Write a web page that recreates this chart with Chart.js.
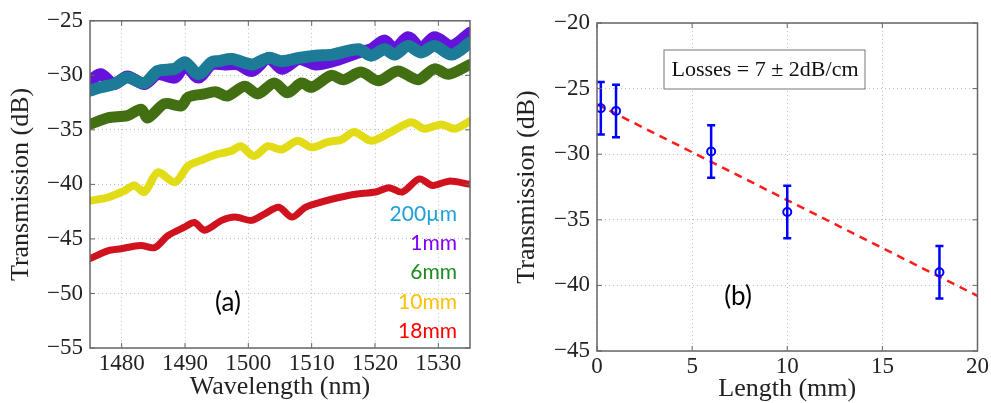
<!DOCTYPE html>
<html>
<head>
<meta charset="utf-8">
<script src="https://cdn.jsdelivr.net/npm/chart.js@4"></script>
<style>
  html, body { margin: 0; padding: 0; background: #fff; }
  #wrap { position: relative; width: 991px; height: 403px; }
  #c1 { position: absolute; left: 0; top: 0; }
  #c2 { position: absolute; left: 495px; top: 0; }
</style>
</head>
<body>
<div id="wrap">
  <canvas id="c1" width="490" height="403"></canvas>
  <canvas id="c2" width="496" height="403"></canvas>
</div>
<script>
// ---- panel (a): transmission spectra ----
const wlTeal = [1475,1476.7,1478.8,1480.9,1483.6,1485.7,1488.4,1490,1492.1,1494.2,1495.3,1497.4,1500.6,1503.2,1505.3,1508,1510.6,1513.3,1517.4,1519.4,1521.5,1523.1,1525.2,1527.3,1529.4,1532.1,1535];
const trTeal = [-31.4,-31.1,-30.8,-30.2,-30.7,-29.6,-29.4,-28.8,-29.9,-28.8,-28.7,-28.5,-29.0,-28.4,-28.7,-28.4,-28.2,-28.1,-27.6,-28.2,-27.6,-28.1,-27.3,-27.9,-27.3,-28.1,-27.0];
const wlPur = [1475,1476.7,1478.8,1480.9,1483.6,1485.7,1488.4,1490,1492.1,1494.2,1496.3,1498.4,1500.6,1503.2,1505.3,1508,1510.6,1513.3,1517.4,1519.4,1521.5,1523.1,1525.2,1527.3,1529.4,1532.1,1535];
const trPur = [-30.5,-29.9,-30.8,-30.1,-30.8,-29.9,-30.2,-29.1,-30.2,-29.0,-29.0,-29.0,-29.6,-28.4,-29.4,-28.5,-29.0,-28.7,-27.9,-27.6,-26.8,-27.6,-26.5,-27.5,-26.5,-27.3,-26.1];
const wlGrn = [1475,1477.8,1480.9,1483.1,1484.1,1486.8,1489.4,1490.5,1493.1,1494.8,1496.7,1499.4,1501.5,1504.1,1506.2,1508.4,1510,1513.1,1515,1517.8,1520.5,1523.6,1526.8,1529.4,1531.6,1535];
const trGrn = [-34.5,-33.9,-33.7,-33.1,-33.9,-32.6,-32.8,-32.0,-31.7,-31.5,-31.9,-31.0,-31.7,-30.7,-31.6,-30.7,-31.1,-30.0,-30.4,-29.7,-30.5,-29.6,-30.4,-29.4,-29.9,-29.0];
const wlYel = [1475,1477.8,1480.4,1482,1483.6,1485.7,1488.4,1490.5,1492.5,1494.7,1497.4,1498.8,1500.9,1503.1,1505.2,1507.8,1510,1512.6,1514.7,1516.7,1519.4,1522.5,1525.7,1527.8,1530.5,1532.6,1535];
const trYel = [-41.5,-41.2,-40.6,-40.1,-40.7,-38.9,-39.8,-38.3,-37.8,-37.3,-36.9,-36.5,-37.4,-36.5,-36.8,-36.0,-36.6,-36.1,-35.9,-35.2,-36.0,-35.2,-34.3,-34.9,-34.5,-34.9,-34.2];
const wlRed = [1475,1477.8,1479.9,1483,1485.2,1487.3,1490,1491.5,1493.1,1495.8,1497.9,1500.5,1502.6,1504.8,1506.9,1509,1511.6,1514.3,1516.9,1520.1,1522.2,1524.3,1527,1529.1,1531.7,1535];
const trRed = [-46.8,-46.1,-45.9,-45.6,-45.8,-44.7,-43.9,-43.5,-44.2,-43.3,-43.0,-43.3,-42.7,-42.1,-43.0,-42.1,-41.6,-41.2,-40.9,-40.7,-40.3,-40.7,-39.5,-40.1,-39.7,-40.0];
const xTicksA = [1480, 1490, 1500, 1510, 1520, 1530];
const sampleNames = ['200\u00b5m', '1mm', '6mm', '10mm', '18mm'];
const sampleColors = ['#1ea0d8', '#8000ff', '#1f8a1f', '#ffc000', '#ff0000'];

// ---- panel (b): losses vs length ----
const lengthMm = [0.2, 1, 6, 10, 18];
const transB = [-26.5, -26.7, -29.8, -34.4, -39.0];
const errB = [2, 2, 2, 2, 2];
const fitX = [0, 20];
const fitY = [-26.2, -40.8];

const serif = '"Liberation Serif", "Times New Roman", serif';
Chart.defaults.font.family = serif;
Chart.defaults.color = '#222';

const minus = v => (v < 0 ? '\u2212' : '') + Math.abs(v);
const pts = (xs, ys) => xs.map((x, i) => ({ x: x, y: ys[i] }));

// box around the plot with inward ticks, matlab style
const frame = {
  id: 'frame',
  afterDraw(chart) {
    const { ctx, chartArea: a, scales } = chart;
    ctx.save();
    ctx.strokeStyle = '#666';
    ctx.lineWidth = 1;
    ctx.beginPath();
    scales.x.ticks.forEach(t => {
      const px = scales.x.getPixelForValue(t.value);
      ctx.moveTo(px, a.bottom); ctx.lineTo(px, a.bottom - 5);
      ctx.moveTo(px, a.top); ctx.lineTo(px, a.top + 5);
    });
    scales.y.ticks.forEach(t => {
      const py = scales.y.getPixelForValue(t.value);
      ctx.moveTo(a.left, py); ctx.lineTo(a.left + 5, py);
      ctx.moveTo(a.right, py); ctx.lineTo(a.right - 5, py);
    });
    ctx.stroke();
    ctx.lineWidth = 1.5;
    ctx.strokeRect(a.left, a.top, a.right - a.left, a.bottom - a.top);
    ctx.restore();
  }
};

const labelsA = {
  id: 'labelsA',
  afterDraw(chart) {
    const { ctx, chartArea: a } = chart;
    ctx.save();
    ctx.font = '21px Lato, "Open Sans", sans-serif';
    ctx.textAlign = 'right';
    ctx.textBaseline = 'middle';
    sampleNames.forEach((n, i) => {
      ctx.fillStyle = sampleColors[i];
      ctx.fillText(n, a.right - 13, a.bottom - 134 + i * 29.3);
    });
    ctx.fillStyle = '#000';
    ctx.textAlign = 'center';
    ctx.font = '26px Lato, "Open Sans", sans-serif';
    ctx.fillText('(a)', a.left + 138, a.bottom - 45);
    ctx.restore();
  }
};

const errorBars = {
  id: 'errorBars',
  afterDatasetsDraw(chart) {
    const { ctx, scales: { x, y } } = chart;
    ctx.save();
    ctx.strokeStyle = '#0000ff';
    ctx.lineWidth = 2.5;
    ctx.beginPath();
    lengthMm.forEach((L, i) => {
      const px = x.getPixelForValue(L);
      const top = y.getPixelForValue(transB[i] + errB[i]);
      const bot = y.getPixelForValue(transB[i] - errB[i]);
      ctx.moveTo(px, top); ctx.lineTo(px, bot);
      ctx.moveTo(px - 4, top); ctx.lineTo(px + 4, top);
      ctx.moveTo(px - 4, bot); ctx.lineTo(px + 4, bot);
    });
    ctx.stroke();
    ctx.restore();
  }
};

const labelsB = {
  id: 'labelsB',
  afterDraw(chart) {
    const { ctx, chartArea: a } = chart;
    ctx.save();
    ctx.fillStyle = '#fff';
    ctx.strokeStyle = '#777';
    ctx.lineWidth = 1;
    ctx.fillRect(a.left + 67, a.top + 27, 201, 39);
    ctx.strokeRect(a.left + 67, a.top + 27, 201, 39);
    ctx.fillStyle = '#111';
    ctx.font = '22px ' + serif;
    ctx.textAlign = 'center';
    ctx.textBaseline = 'middle';
    ctx.fillText('Losses = 7 \u00b1 2dB/cm', a.left + 168, a.top + 47);
    ctx.font = '26px Lato, "Open Sans", sans-serif';
    ctx.fillStyle = '#000';
    ctx.fillText('(b)', a.left + 141, a.bottom - 54);
    ctx.restore();
  }
};

const gridOpts = { color: '#bdbdbd', lineWidth: 1, drawTicks: false };
const borderOpts = { display: false, dash: [1, 3] };
const tickFont = { size: 23 };
const titleFont = { size: 26 };

function band(label, xs, ys, color, w) {
  return {
    label: label, data: pts(xs, ys), borderColor: color, backgroundColor: color,
    borderWidth: w, pointRadius: 0, tension: 0.3, borderJoinStyle: 'round', borderCapStyle: 'round'
  };
}

new Chart(document.getElementById('c1'), {
  type: 'line',
  data: {
    datasets: [
      band('200\u00b5m', wlTeal, trTeal, '#1c7b97', 12),
      band('1mm', wlPur, trPur, '#6512dc', 12),
      band('6mm', wlGrn, trGrn, '#416f12', 11),
      band('10mm', wlYel, trYel, '#e2dc16', 8),
      band('18mm', wlRed, trRed, '#d0121e', 7)
    ]
  },
  options: {
    responsive: false,
    animation: false,
    layout: { padding: { top: 20, right: 20, left: 0, bottom: 0 } },
    plugins: { legend: { display: false }, tooltip: { enabled: false } },
    scales: {
      x: {
        type: 'linear', min: 1475, max: 1535,
        afterBuildTicks: s => { s.ticks = xTicksA.map(v => ({ value: v })); },
        afterFit: s => { s.height = 55; },
        grid: gridOpts, border: borderOpts,
        ticks: { font: tickFont, padding: 2, maxRotation: 0, callback: v => v },
        title: { display: true, text: 'Wavelength (nm)', font: titleFont, padding: { top: 0, bottom: 0 } }
      },
      y: {
        min: -55, max: -25,
        afterFit: s => { s.width = 90; },
        grid: gridOpts, border: borderOpts,
        ticks: { font: tickFont, padding: 7, stepSize: 5, callback: minus },
        title: { display: true, text: 'Transmission (dB)', font: titleFont, padding: { top: 6, bottom: 0 } }
      }
    }
  },
  plugins: [labelsA, frame]
});

new Chart(document.getElementById('c2'), {
  type: 'line',
  data: {
    datasets: [
      {
        label: 'measured', data: pts(lengthMm, transB), showLine: false,
        pointRadius: 4, pointBorderWidth: 2, pointBorderColor: '#0000ff', pointBackgroundColor: 'rgba(0,0,0,0)'
      },
      {
        label: 'fit', data: pts(fitX, fitY), borderColor: '#ff1a1a', borderWidth: 2.5,
        borderDash: [8, 6], pointRadius: 0
      }
    ]
  },
  options: {
    responsive: false,
    animation: false,
    layout: { padding: { top: 23, right: 13, left: 0, bottom: 0 } },
    plugins: { legend: { display: false }, tooltip: { enabled: false } },
    scales: {
      x: {
        type: 'linear', min: 0, max: 20,
        afterFit: s => { s.height = 52; },
        grid: gridOpts, border: borderOpts,
        ticks: { font: tickFont, padding: 2, stepSize: 5, maxRotation: 0 },
        title: { display: true, text: 'Length (mm)', font: titleFont, padding: { top: 0, bottom: -2 } }
      },
      y: {
        min: -45, max: -20,
        afterFit: s => { s.width = 102; },
        grid: gridOpts, border: borderOpts,
        ticks: { font: tickFont, padding: 7, stepSize: 5, callback: minus },
        title: { display: true, text: 'Transmission (dB)', font: titleFont, padding: { top: 17, bottom: 0 } }
      }
    }
  },
  plugins: [errorBars, labelsB, frame]
});
</script>
</body>
</html>
